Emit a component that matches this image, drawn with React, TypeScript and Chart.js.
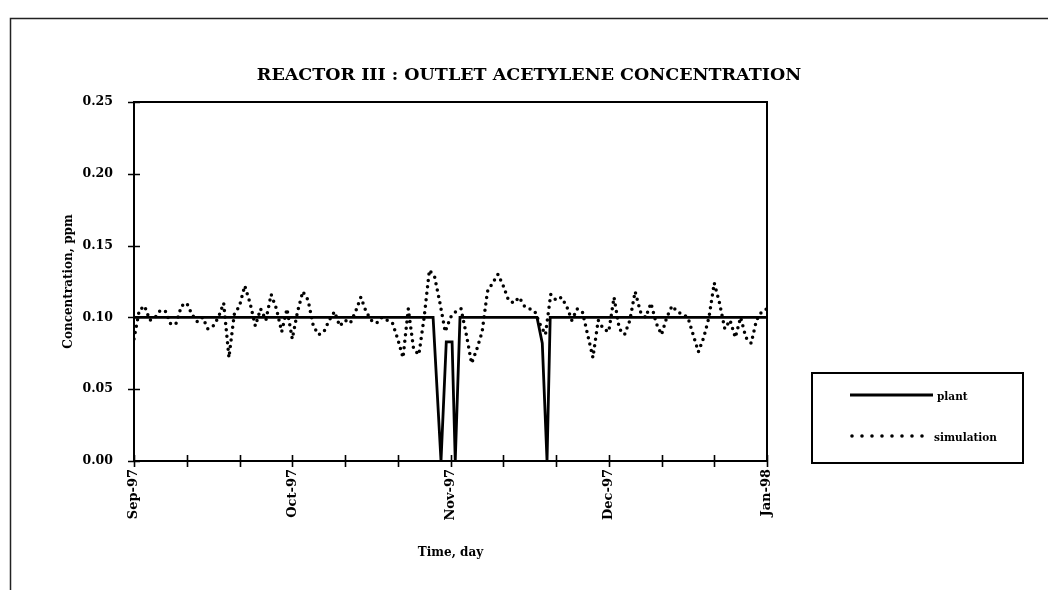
import { useEffect, useRef } from 'react';
import { Chart, registerables } from 'chart.js';

Chart.register(...registerables);

const TITLE = 'REACTOR III : OUTLET ACETYLENE CONCENTRATION';
const Y_TITLE = 'Concentration, ppm';
const X_TITLE = 'Time, day';
const MONTH_LABELS = ['Sep-97', 'Oct-97', 'Nov-97', 'Dec-97', 'Jan-98'];
const DAYS_PER_MONTH_LABEL = 30;
const LEGEND_LABELS = ['plant', 'simulation'];

// simulation: one value per day from Sep-97 (day 0) to Jan-98 (day 120)
const SIM_VALUES = [
  0.085, 0.105, 0.108, 0.098, 0.100, 0.105, 0.104, 0.095, 0.096, 0.108,
  0.110, 0.102, 0.097, 0.100, 0.092, 0.094, 0.100, 0.110, 0.072, 0.102,
  0.108, 0.122, 0.110, 0.094, 0.106, 0.098, 0.116, 0.106, 0.090, 0.106,
  0.085, 0.104, 0.118, 0.112, 0.094, 0.088, 0.090, 0.098, 0.104, 0.094,
  0.098, 0.096, 0.104, 0.114, 0.104, 0.098, 0.096, 0.100, 0.098, 0.096,
  0.085, 0.072, 0.106, 0.078, 0.074, 0.100, 0.133, 0.128, 0.110, 0.090,
  0.100, 0.104, 0.106, 0.088, 0.068, 0.078, 0.090, 0.118, 0.124, 0.130,
  0.122, 0.112, 0.110, 0.114, 0.108, 0.106, 0.104, 0.095, 0.088, 0.116,
  0.112, 0.114, 0.108, 0.098, 0.106, 0.104, 0.088, 0.072, 0.098, 0.092,
  0.090, 0.114, 0.092, 0.088, 0.098, 0.118, 0.104, 0.100, 0.110, 0.096,
  0.088, 0.100, 0.108, 0.104, 0.102, 0.100, 0.088, 0.076, 0.086, 0.100,
  0.124, 0.110, 0.092, 0.098, 0.086, 0.100, 0.086, 0.082, 0.098, 0.104,
  0.106,
];

// plant: breakpoints (day, value)
const PLANT_DAYS = [0, 56.7, 58.2, 59.2, 60.3, 60.9, 61.8, 76.4, 77.4, 78.3, 78.9, 120];
const PLANT_VALUES = [0.10, 0.10, 0.0, 0.083, 0.083, 0.0, 0.10, 0.10, 0.082, 0.0, 0.10, 0.10];

const FONT = '"DejaVu Serif", "Liberation Serif", serif';

const decor = {
  id: 'decor',
  beforeDraw(chart: any) {
    const { ctx, width, height } = chart;
    ctx.save();
    ctx.fillStyle = '#fff';
    ctx.fillRect(0, 0, width, height);
    ctx.restore();
  },
  afterDraw(chart: any) {
    const { ctx, chartArea: a, scales } = chart;
    const x = scales.x;
    const y = scales.y;
    ctx.save();
    // outer frame
    ctx.strokeStyle = '#222';
    ctx.lineWidth = 1.5;
    ctx.beginPath();
    ctx.moveTo(10.5, 590);
    ctx.lineTo(10.5, 18.5);
    ctx.lineTo(1048, 18.5);
    ctx.stroke();
    // plot frame
    ctx.strokeStyle = '#000';
    ctx.lineWidth = 2;
    ctx.strokeRect(a.left, a.top, a.right - a.left, a.bottom - a.top);
    // crossing tick marks
    ctx.lineWidth = 1.6;
    ctx.beginPath();
    x.ticks.forEach((t: any) => {
      const px = Math.round(x.getPixelForValue(t.value)) + 0.5;
      ctx.moveTo(px, a.bottom - 6);
      ctx.lineTo(px, a.bottom + 6);
    });
    y.ticks.forEach((t: any) => {
      const py = Math.round(y.getPixelForValue(t.value)) + 0.5;
      ctx.moveTo(a.left - 6, py);
      ctx.lineTo(a.left + 6, py);
    });
    ctx.stroke();
    // title
    ctx.fillStyle = '#000';
    ctx.font = `bold 17.5px ${FONT}`;
    ctx.textAlign = 'center';
    ctx.textBaseline = 'middle';
    ctx.fillText(TITLE, 529, 75);
    // legend box
    const lx = 812, ly = 373, lw = 211, lh = 90;
    ctx.lineWidth = 2;
    ctx.strokeRect(lx, ly, lw, lh);
    ctx.lineWidth = 2.8;
    ctx.beginPath();
    ctx.moveTo(850, 395);
    ctx.lineTo(933, 395);
    ctx.stroke();
    ctx.setLineDash([0, 10]);
    ctx.lineCap = 'round';
    ctx.lineWidth = 3.6;
    ctx.beginPath();
    ctx.moveTo(852, 436);
    ctx.lineTo(930, 436);
    ctx.stroke();
    ctx.setLineDash([]);
    ctx.font = `bold 10.5px ${FONT}`;
    ctx.textAlign = 'left';
    ctx.fillText(LEGEND_LABELS[0], 937, 397);
    ctx.fillText(LEGEND_LABELS[1], 934, 438);
    ctx.restore();
  },
};

export default function App() {
  const ref = useRef<HTMLCanvasElement | null>(null);
  useEffect(() => {
    if (!ref.current) return;
    const chart = new Chart(ref.current, {
      type: 'line',
      data: {
        datasets: [
          {
            label: LEGEND_LABELS[0],
            data: PLANT_DAYS.map((d, i) => ({ x: d, y: PLANT_VALUES[i] })),
            borderColor: '#000',
            borderWidth: 2.8,
            pointRadius: 0,
            tension: 0,
          },
          {
            label: LEGEND_LABELS[1],
            data: SIM_VALUES.map((v, i) => ({ x: i, y: v })),
            borderColor: '#000',
            borderWidth: 3.5,
            borderDash: [0, 6.5],
            borderCapStyle: 'round',
            pointRadius: 0,
            tension: 0,
          },
        ],
      },
      options: {
        animation: false,
        responsive: false,
        layout: { padding: { left: 10, right: 281, top: 102, bottom: 10 } },
        plugins: { legend: { display: false }, title: { display: false }, tooltip: { enabled: false } },
        scales: {
          x: {
            type: 'linear',
            min: 0,
            max: 120,
            grid: { display: false, drawTicks: false },
            border: { display: false },
            afterFit: (s: any) => { s.height = 119; },
            ticks: {
              stepSize: 10,
              autoSkip: false,
              maxRotation: 90,
              minRotation: 90,
              padding: 8,
              color: '#000',
              font: { family: FONT, size: 13, weight: 'bold' },
              callback: (v: any) => {
                const n = Number(v);
                return n % DAYS_PER_MONTH_LABEL === 0 ? MONTH_LABELS[n / DAYS_PER_MONTH_LABEL] : '';
              },
            },
            title: {
              display: true,
              text: X_TITLE,
              color: '#000',
              font: { family: FONT, size: 12, weight: 'bold' },
              padding: { top: 0, bottom: 20 },
            },
          },
          y: {
            min: 0,
            max: 0.25,
            grid: { display: false, drawTicks: false },
            border: { display: false },
            afterFit: (s: any) => { s.width = 124; },
            ticks: {
              stepSize: 0.05,
              padding: 21,
              color: '#000',
              font: { family: FONT, size: 12.5, weight: 'bold' },
              callback: (v: any) => Number(v).toFixed(2),
            },
            title: {
              display: true,
              text: Y_TITLE,
              color: '#000',
              font: { family: FONT, size: 12, weight: 'bold' },
              padding: { top: 52, bottom: 0 },
            },
          },
        },
      },
      plugins: [decor],
    } as any);
    return () => chart.destroy();
  }, []);
  return (
    <div style={{ position: 'fixed', left: 0, top: 0, width: 1048, height: 590, background: '#fff' }}>
      <canvas ref={ref} width={1048} height={590} style={{ display: 'block', width: 1048, height: 590 }} />
    </div>
  );
}
